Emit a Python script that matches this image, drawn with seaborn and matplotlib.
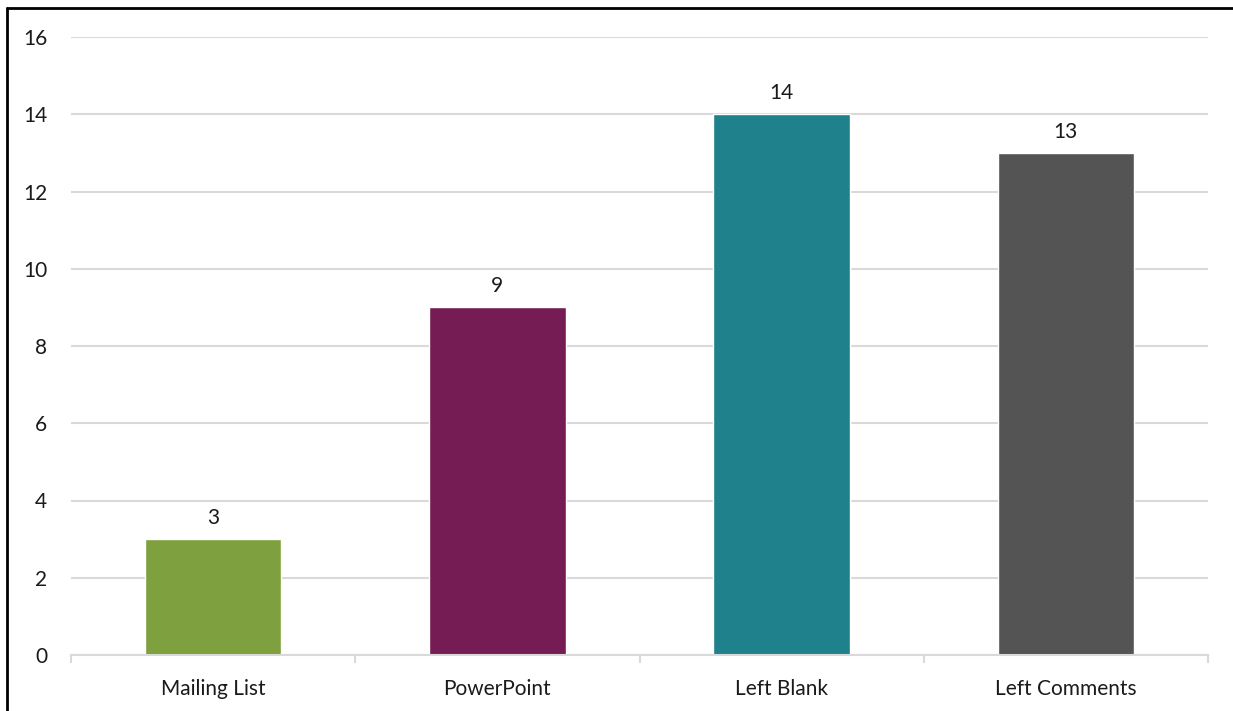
import matplotlib.pyplot as plt
import pandas as pd
import seaborn as sns
from matplotlib.lines import Line2D

# Data
categories = ['Mailing List', 'PowerPoint', 'Left Blank', 'Left Comments']
counts = [3, 9, 14, 13]
bar_colors = ['#7fa03f', '#761c54', '#1f818c', '#545454']

df = pd.DataFrame({'category': categories, 'count': counts})

sns.set_theme(style='white')
plt.rcParams['font.family'] = ['Lato', 'DejaVu Sans']

fig = plt.figure(figsize=(12.33, 7.11), dpi=100)
ax = fig.add_axes([71 / 1233, 1 - 655 / 711, (1208 - 71) / 1233, (655 - 37) / 711])

sns.barplot(data=df, x='category', y='count', hue='category',
            palette=bar_colors, width=0.48, dodge=False, legend=False,
            saturation=1, ax=ax)

for c in ax.containers:
    ax.bar_label(c, fontsize=15, padding=8, color='#1a1a1a')

ax.set_ylim(0, 16)
ax.set_xlim(-0.5, 3.5)
ax.set_yticks(range(0, 17, 2))
ax.set_xlabel('')
ax.set_ylabel('')
ax.grid(axis='y', color='#d9d9d9', linewidth=1.5)
ax.set_axisbelow(True)
for side in ['top', 'right', 'left']:
    ax.spines[side].set_visible(False)
ax.spines['bottom'].set_color('#d9d9d9')
ax.spines['bottom'].set_linewidth(1.5)

# category boundary ticks like Excel
ax.set_xticks([-0.5, 0.5, 1.5, 2.5, 3.5], minor=True)
ax.tick_params(axis='x', which='minor', length=6, width=1.5, color='#d9d9d9', bottom=True)
ax.tick_params(axis='x', which='major', length=0, pad=17, labelsize=15, labelcolor='#1a1a1a')
ax.tick_params(axis='y', length=0, pad=17, labelsize=15, labelcolor='#1a1a1a')

# outer border (cropped on right and bottom)
fig.add_artist(Line2D([7 / 1233, 7 / 1233], [0, 1 - 8 / 711], color='black', linewidth=2))
fig.add_artist(Line2D([7 / 1233, 1], [1 - 8 / 711, 1 - 8 / 711], color='black', linewidth=2))

fig.savefig('out.png', dpi=100)
